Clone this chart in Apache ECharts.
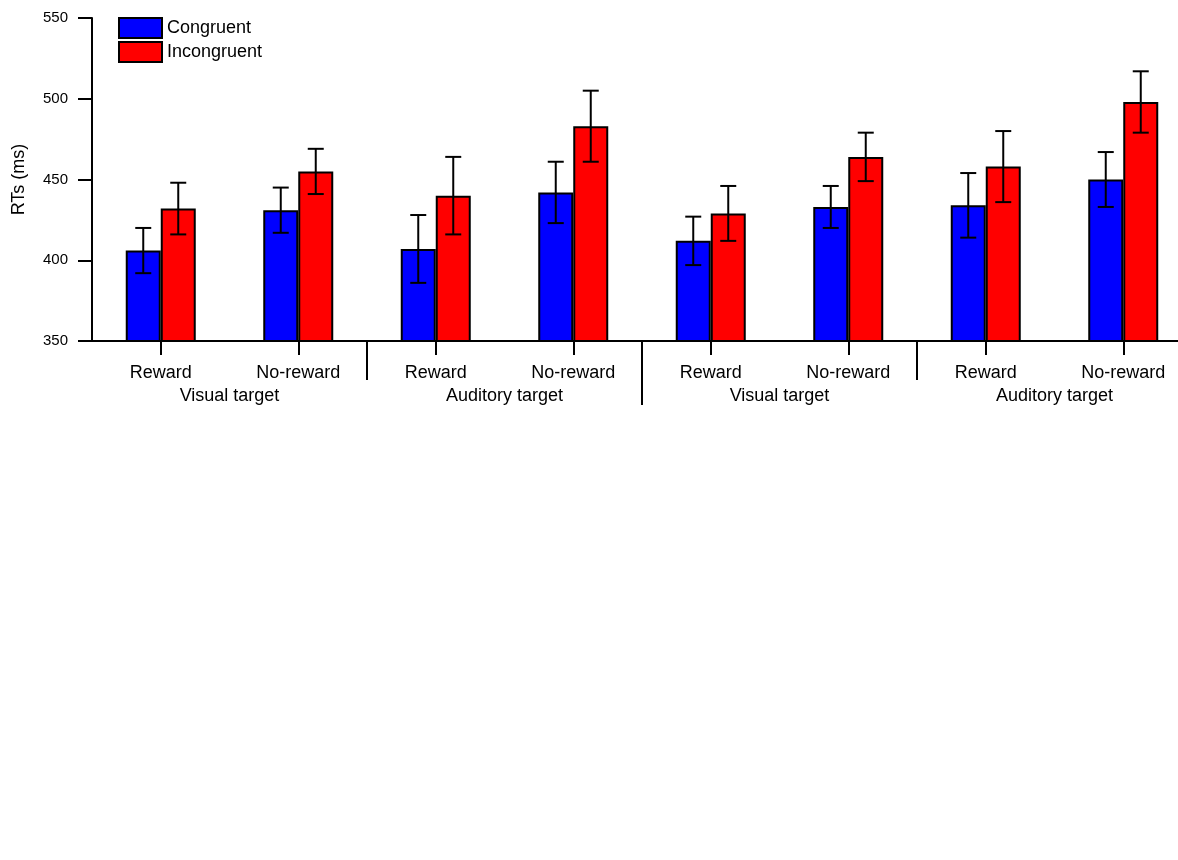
<!DOCTYPE html>
<html>
<head>
<meta charset="utf-8">
<title>RTs by reward and congruency</title>
<script src="https://cdn.jsdelivr.net/npm/echarts@6/dist/echarts.min.js"></script>
<style>
  html, body { margin: 0; padding: 0; background: #ffffff; overflow: hidden; }
  /* the plot runs slightly past the right edge of the window */
  #chart { width: 1192px; height: 860px; }
</style>
</head>
<body>
<div id="chart"></div>
<script>
// Reward condition under each bar pair, and the target modality that groups each pair of conditions
const conditions = ['Reward', 'No-reward', 'Reward', 'No-reward', 'Reward', 'No-reward', 'Reward', 'No-reward'];
const targetGroups = ['Visual target', 'Auditory target', 'Visual target', 'Auditory target'];

// Mean response times (ms) and their error bars
const congruent = [406, 431, 407, 442, 412, 433, 434, 450];
const congruentErr = [14, 14, 21, 19, 15, 13, 20, 17];
const incongruent = [432, 455, 440, 483, 429, 464, 458, 498];
const incongruentErr = [16, 14, 24, 22, 17, 15, 22, 19];

// Value axis range and step
const yMin = 350;
const yMax = 550;
const yStep = 50;

// Group boundaries fall after these condition indices
const boundaries = [1, 3, 5];

const FONT = "'Liberation Sans', Arial, Helvetica, sans-serif";
const BAR_W = 35;
const CAP_W = 16;

// unique category keys, shown through the formatter as the plain condition name
const categoryKeys = conditions.map((c, i) => i + '|' + c);

function errorBarSeries(name, means, errs, offset) {
  return {
    type: 'custom',
    name: name + ' error',
    xAxisIndex: 0,
    z: 5,
    silent: true,
    clip: false,
    data: means.map((m, i) => [i, m, errs[i]]),
    encode: { x: 0, y: 1 },
    renderItem: function (params, api) {
      const idx = api.value(0);
      const mean = api.value(1);
      const err = api.value(2);
      const top = api.coord([idx, mean + err]);
      const bot = api.coord([idx, mean - err]);
      const x = top[0] + offset;
      const style = { stroke: '#000', lineWidth: 2 };
      return {
        type: 'group',
        children: [
          { type: 'line', shape: { x1: x, y1: top[1], x2: x, y2: bot[1] }, style: style },
          { type: 'line', shape: { x1: x - CAP_W / 2, y1: top[1], x2: x + CAP_W / 2, y2: top[1] }, style: style },
          { type: 'line', shape: { x1: x - CAP_W / 2, y1: bot[1], x2: x + CAP_W / 2, y2: bot[1] }, style: style }
        ]
      };
    }
  };
}

const chart = echarts.init(document.getElementById('chart'), null, { renderer: 'canvas' });

const option = {
  backgroundColor: '#ffffff',
  animation: false,
  textStyle: { fontFamily: FONT },
  grid: { left: 92, right: 0, top: 18, height: 323, containLabel: false },
  legend: {
    orient: 'vertical',
    left: 118,
    top: 17,
    padding: 0,
    itemWidth: 43,
    itemHeight: 20,
    itemGap: 2,
    icon: 'rect',
    data: ['Congruent', 'Incongruent'],
    itemStyle: { borderColor: '#000', borderWidth: 2 },
    textStyle: { fontSize: 18, color: '#000', fontFamily: FONT }
  },
  xAxis: [
    {
      type: 'category',
      data: categoryKeys,
      position: 'bottom',
      axisLine: { show: true, lineStyle: { color: '#000', width: 2 } },
      axisTick: { show: true, alignWithLabel: true, length: 14, lineStyle: { color: '#000', width: 2 } },
      axisLabel: {
        interval: 0,
        margin: 23,
        fontSize: 18,
        color: '#000',
        fontFamily: FONT,
        formatter: v => v.split('|')[1]
      },
      splitLine: { show: false }
    },
    {
      type: 'category',
      data: targetGroups,
      position: 'bottom',
      gridIndex: 0,
      axisLine: { show: false },
      axisTick: { show: false },
      axisLabel: { interval: 0, margin: 46, fontSize: 18, color: '#000', fontFamily: FONT },
      splitLine: { show: false }
    }
  ],
  yAxis: {
    type: 'value',
    min: yMin,
    max: yMax,
    interval: yStep,
    name: 'RTs (ms)',
    nameLocation: 'middle',
    nameGap: 64,
    nameTextStyle: { fontSize: 18, color: '#000', fontFamily: FONT },
    axisLine: { show: true, lineStyle: { color: '#000', width: 2 } },
    axisTick: { show: true, length: 14, lineStyle: { color: '#000', width: 2 } },
    axisLabel: { margin: 24, fontSize: 15, color: '#000', fontFamily: FONT },
    splitLine: { show: false }
  },
  series: [
    {
      name: 'Congruent',
      type: 'bar',
      xAxisIndex: 0,
      barWidth: BAR_W,
      barGap: '0%',
      data: congruent,
      itemStyle: { color: '#0000ff', borderColor: '#000', borderWidth: 2 }
    },
    {
      name: 'Incongruent',
      type: 'bar',
      xAxisIndex: 0,
      barWidth: BAR_W,
      barGap: '0%',
      data: incongruent,
      itemStyle: { color: '#ff0000', borderColor: '#000', borderWidth: 2 }
    },
    errorBarSeries('Congruent', congruent, congruentErr, -BAR_W / 2),
    errorBarSeries('Incongruent', incongruent, incongruentErr, BAR_W / 2),
    {
      // vertical dividers between target groups; the middle one splits the two halves
      type: 'custom',
      name: 'dividers',
      xAxisIndex: 0,
      silent: true,
      clip: false,
      z: 6,
      data: boundaries.map(b => [b, yMin]),
      encode: { x: 0, y: 1 },
      renderItem: function (params, api) {
        const b = api.value(0);
        const a = api.coord([b, yMin]);
        const c = api.coord([b + 1, yMin]);
        const x = Math.round((a[0] + c[0]) / 2);
        const len = params.dataIndex === 1 ? 64 : 39;
        return {
          type: 'line',
          shape: { x1: x, y1: a[1], x2: x, y2: a[1] + len },
          style: { stroke: '#000', lineWidth: 2 }
        };
      }
    }
  ]
};

chart.setOption(option);
</script>
</body>
</html>
